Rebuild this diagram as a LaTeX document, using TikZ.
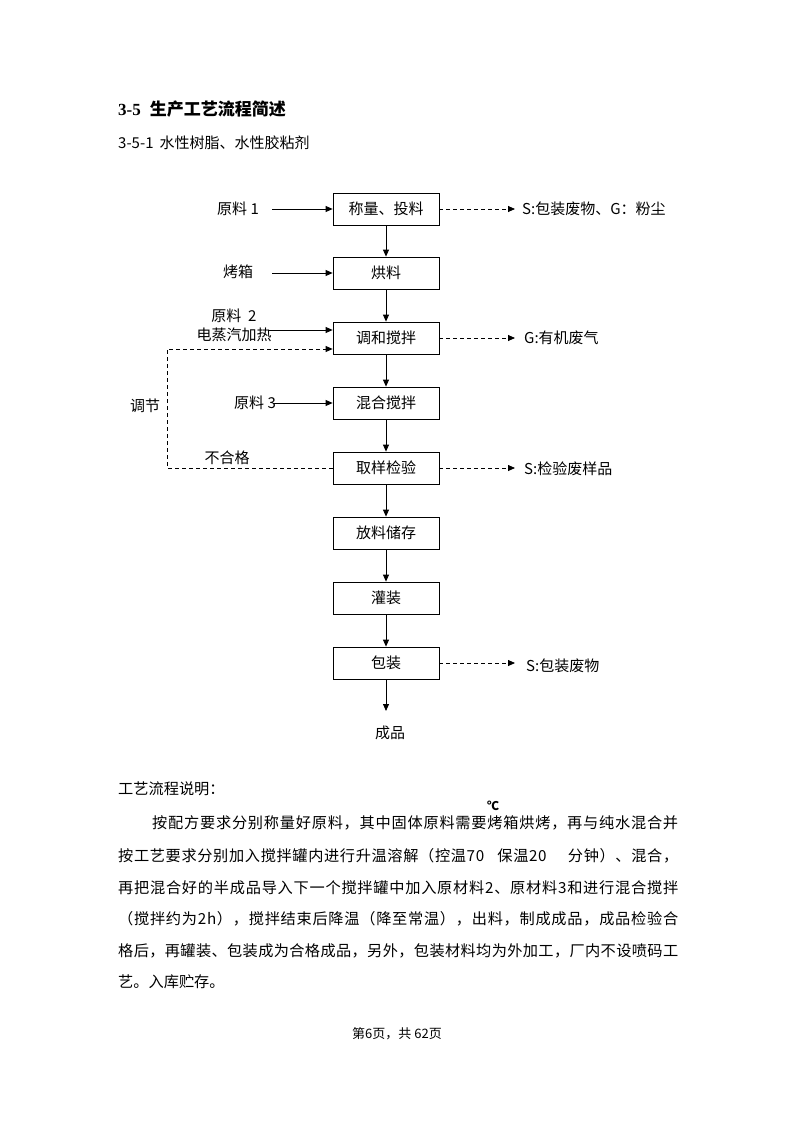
\documentclass[tikz,border=0pt]{standalone}
\usepackage{fontspec}
\setmainfont{Noto Sans CJK SC}
\newfontfamily\serifbold{Liberation Serif}
\usetikzlibrary{arrows.meta}
\makeatletter
\newcommand\spreadline[2]{\hbox to #1{\sp@go#2\sp@stop}}
\def\sp@go#1{\ifx#1\sp@stop\unskip\else#1\hskip 0pt plus 1fil\relax\expandafter\sp@go\fi}
\makeatother
\newcommand\gapA{\hspace{12pt}}
\newcommand\gapB{\hspace{20pt}}
\begin{document}
\begin{tikzpicture}[x=1pt,y=-1pt,
  box/.style={draw, line width=0.8pt, minimum width=106pt, minimum height=32pt, inner sep=0pt, font=\fontsize{15}{18}\selectfont},
  lbl/.style={inner sep=0pt, font=\fontsize{15}{18}\selectfont},
  txt/.style={anchor=base west, inner sep=0pt, font=\fontsize{15.2}{18}\selectfont},
  arr/.style={line width=0.8pt, -{Triangle[length=7pt,width=6pt]}},
  darr/.style={arr, dash pattern=on 4pt off 3pt}]
\fill[white] (0,0) rectangle (794,1123);
\useasboundingbox (0,0) rectangle (794,1123);
% headings
\node[anchor=base west, inner sep=0pt] (title) at (118,116) {{\serifbold\bfseries\fontsize{17}{20}\selectfont 3-5}\hspace{9pt}{\bfseries\fontsize{17}{20}\selectfont 生产工艺流程简述}};
\node[anchor=base west, inner sep=0pt, font=\fontsize{15}{18}\selectfont] (sub) at (118,149) {3-5-1\hspace{6pt}水性树脂、水性胶粘剂};
% boxes
\node[box] (b1) at (386,209) {称量、投料};
\node[box] (b2) at (386,273) {烘料};
\node[box] (b3) at (386,338) {调和搅拌};
\node[box] (b4) at (386,403) {混合搅拌};
\node[box] (b5) at (386,468) {取样检验};
\node[box] (b6) at (386,533) {放料储存};
\node[box] (b7) at (386,598) {灌装};
\node[box] (b8) at (386,663) {包装};
\node[lbl] (out) at (390,733) {成品};
\coordinate (e8) at (386,711);
\draw[arr] (b1) -- (b2);
\draw[arr] (b2) -- (b3);
\draw[arr] (b3) -- (b4);
\draw[arr] (b4) -- (b5);
\draw[arr] (b5) -- (b6);
\draw[arr] (b6) -- (b7);
\draw[arr] (b7) -- (b8);
\draw[arr] (b8) -- (e8);
% left inputs
\node[lbl] (l1) at (238,209) {原料 1};
\coordinate (s1) at (272,209);
\draw[arr] (s1) -- (b1.west);
\node[lbl] (l2) at (238,272) {烤箱};
\coordinate (s2) at (272,273);
\draw[arr] (s2) -- (b2.west);
\node[lbl] (l3a) at (234,316) {原料\ \ 2};
\node[lbl] (l3b) at (234,335) {电蒸汽加热};
\coordinate (s3) at (268,330);
\draw[arr] (s3) -- (s3 -| b3.west);
\node[lbl] (l4) at (255,403) {原料 3};
\coordinate (s4) at (273,403);
\draw[arr] (s4) -- (b4.west);
% feedback
\coordinate (f1) at (167,468);
\coordinate (f2) at (167,349);
\draw[darr] (b5.west) -- (f1) -- (f2) -- (f2 -| b3.west);
\node[lbl] (ng) at (227,458) {不合格};
\node[lbl] (tj) at (145,406) {调节};
% right outputs
\coordinate (r1) at (515,209);
\coordinate (r3) at (515,338);
\coordinate (r5) at (515,468);
\coordinate (r8) at (515,663);
\draw[darr] (b1.east) -- (r1);
\draw[darr] (b3.east) -- (r3);
\draw[darr] (b5.east) -- (r5);
\draw[darr] (b8.east) -- (r8);
\node[lbl, anchor=west] (o1) at (522,209) {S:包装废物、G：粉尘};
\node[lbl, anchor=west] (o3) at (524,338) {G:有机废气};
\node[lbl, anchor=west] (o5) at (524,469) {S:检验废样品};
\node[lbl, anchor=west] (o8) at (526,666) {S:包装废物};
% description
\node[txt] (h) at (118,794) {工艺流程说明：};
\node[inner sep=0pt, font=\bfseries\fontsize{12}{14}\selectfont] (deg) at (493,806) {℃};
\node[txt] (p1) at (152,828) {\spreadline{526pt}{按配方要求分别称量好原料，其中固体原料需要烤箱烘烤，再与纯水混合并}};
\node[txt] (p2) at (118,861) {\spreadline{560pt}{按工艺要求分别加入搅拌罐内进行升温溶解（控温70\gapA 保温20\gapB 分钟）、混合，}};
\node[txt] (p3) at (118,893) {\spreadline{560pt}{再把混合好的半成品导入下一个搅拌罐中加入原材料2、原材料3和进行混合搅拌}};
\node[txt] (p4) at (118,924) {\spreadline{560pt}{（搅拌约为2h），搅拌结束后降温（降至常温），出料，制成成品，成品检验合}};
\node[txt] (p5) at (118,956) {\spreadline{560pt}{格后，再罐装、包装成为合格成品，另外，包装材料均为外加工，厂内不设喷码工}};
\node[txt] (p6) at (118,987) {艺。入库贮存。};
% footer
\node[anchor=base, inner sep=0pt, font=\fontsize{13}{15}\selectfont] (foot) at (397,1038) {第6页，共 62页};
\end{tikzpicture}
\end{document}
